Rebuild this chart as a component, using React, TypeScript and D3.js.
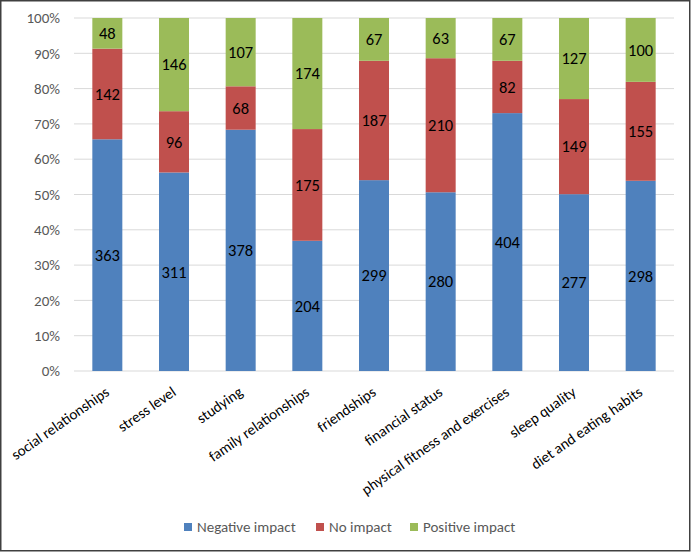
import React from "react";
import * as d3 from "d3";

const categories = [
  "social relationships",
  "stress level",
  "studying",
  "family relationships",
  "friendships",
  "financial status",
  "physical fitness and exercises",
  "sleep quality",
  "diet and eating habits",
];
const negativeImpact = [363, 311, 378, 204, 299, 280, 404, 277, 298];
const noImpact = [142, 96, 68, 175, 187, 210, 82, 149, 155];
const positiveImpact = [48, 146, 107, 174, 67, 63, 67, 127, 100];
const seriesNames = ["Negative impact", "No impact", "Positive impact"];
const seriesColors = ["#4F81BD", "#C0504D", "#9BBB59"];
const yTicks = [0, 0.1, 0.2, 0.3, 0.4, 0.5, 0.6, 0.7, 0.8, 0.9, 1];

const W = 693;
const H = 552;
const left = 74;
const right = 674;
const top = 18;
const bottom = 371;
const font = "Carlito, Calibri, 'Open Sans', sans-serif";

export default function App() {
  const x = d3.scaleBand<string>().domain(categories).range([left, right]).paddingInner(0.55).paddingOuter(0.275);
  const y = d3.scaleLinear().domain([0, 1]).range([bottom, top]);
  const rows = categories.map((c, i) => ({
    cat: c,
    "Negative impact": negativeImpact[i],
    "No impact": noImpact[i],
    "Positive impact": positiveImpact[i],
  }));
  const stacked = d3.stack<any>().keys(seriesNames).offset(d3.stackOffsetExpand)(rows);
  const fmt = d3.format(".0%");
  const legendX = [184, 316, 410];

  return (
    <svg width={W} height={H} style={{ position: "absolute", left: 0, top: 0 }} fontFamily={font}>
      <rect x={0} y={0} width={W} height={H} fill="#fff" />
      {yTicks.map((t) => (
        <g key={t}>
          <line x1={left} x2={right} y1={y(t)} y2={y(t)} stroke="#D9D9D9" strokeWidth={1} />
          <text x={left - 14} y={y(t)} dy="0.35em" textAnchor="end" fontSize={15} fill="#595959">
            {fmt(t)}
          </text>
        </g>
      ))}
      {stacked.map((s, si) => (
        <g key={s.key}>
          {s.map((d, i) => {
            const x0 = x(categories[i])!;
            const y0 = y(d[1]);
            const h = y(d[0]) - y(d[1]);
            const v = (d.data as any)[s.key];
            return (
              <g key={i}>
                <rect x={x0} y={y0} width={x.bandwidth()} height={h} fill={seriesColors[si]} />
                <text
                  x={x0 + x.bandwidth() / 2}
                  y={y0 + h / 2}
                  dy="0.35em"
                  textAnchor="middle"
                  fontSize={16.5}
                  fill="#000"
                >
                  {v}
                </text>
              </g>
            );
          })}
        </g>
      ))}
      {categories.map((c) => {
        const cx = x(c)! + x.bandwidth() / 2;
        const cy = bottom + 19;
        return (
          <text
            key={c}
            transform={`translate(${cx},${cy}) rotate(-35)`}
            textAnchor="end"
            dy="0.35em"
            fontSize={15}
            fill="#000"
          >
            {c}
          </text>
        );
      })}
      {seriesNames.map((n, i) => (
        <g key={n}>
          <rect x={legendX[i]} y={523} width={8} height={8} fill={seriesColors[i]} />
          <text x={legendX[i] + 13} y={527} dy="0.35em" fontSize={15} fill="#595959">
            {n}
          </text>
        </g>
      ))}
      <rect x={0.75} y={0.75} width={689} height={550} fill="none" stroke="#404040" strokeWidth={1.5} />
    </svg>
  );
}
